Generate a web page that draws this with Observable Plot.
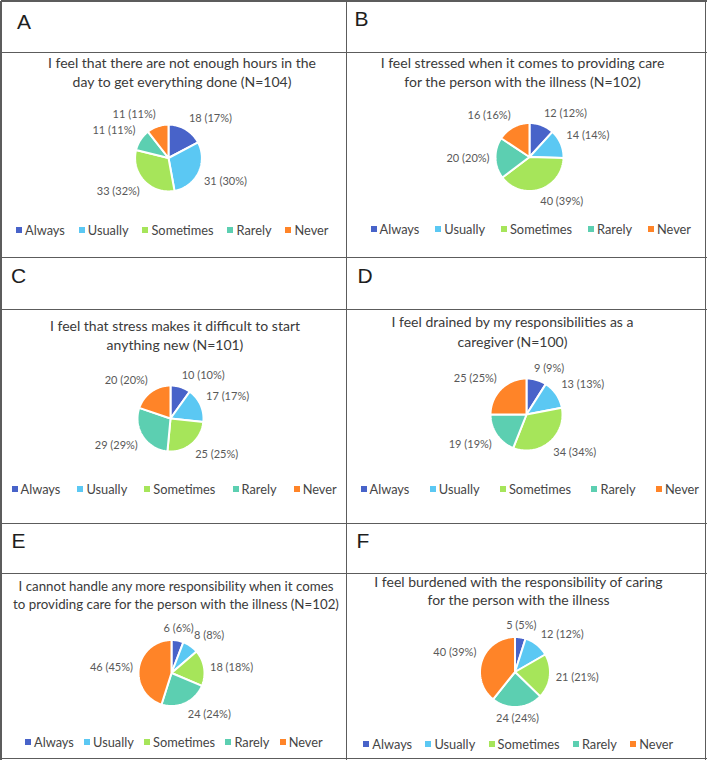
<!DOCTYPE html>
<html><head><meta charset="utf-8">
<script src="https://cdn.jsdelivr.net/npm/d3@7"></script>
<script src="https://cdn.jsdelivr.net/npm/@observablehq/plot@0.6"></script>
<style>
body{margin:0;background:#fff;}
#fig{position:relative;width:708px;height:762px;overflow:hidden;font-family:Lato,"Noto Sans",sans-serif;background:#fff;}
.hl{position:absolute;height:1.5px;background:#5c5c5c;}
.vl{position:absolute;width:1.5px;background:#5c5c5c;}
.letter{position:absolute;font-family:"Liberation Sans",Arial,sans-serif;font-size:21px;line-height:21px;color:#1e1e1e;}
.title{position:absolute;width:440px;text-align:center;color:#3a3a3a;white-space:nowrap;}
.legend{position:absolute;display:flex;justify-content:space-between;align-items:center;height:20px;font-size:12.8px;color:#454545;white-space:nowrap;}
.legend .item{display:flex;align-items:center;}
.legend .sw{display:inline-block;width:6px;height:6px;margin-right:3px;}
.psvg{position:absolute;}
</style></head><body><div id="fig"></div><script>
// ---------- data ----------
const categories = ["Always", "Usually", "Sometimes", "Rarely", "Never"];
const panelLetters = ["A", "B", "C", "D", "E", "F"];
const titleA = ["I feel that there are not enough hours in the", "day to get everything done (N=104)"];
const titleB = ["I feel stressed when it comes to providing care", "for the person with the illness (N=102)"];
const titleC = ["I feel that stress makes it difficult to start", "anything new (N=101)"];
const titleD = ["I feel drained by my responsibilities as a", "caregiver (N=100)"];
const titleE = ["I cannot handle any more responsibility when it comes", "to providing care for the person with the illness (N=102)"];
const titleF = ["I feel burdened with the responsibility of caring", "for the person with the illness"];
const countsA = [18, 31, 33, 11, 11];
const pctA = [17, 30, 32, 11, 11];
const countsB = [12, 14, 40, 20, 16];
const pctB = [12, 14, 39, 20, 16];
const countsC = [10, 17, 25, 29, 20];
const pctC = [10, 17, 25, 29, 20];
const countsD = [9, 13, 34, 19, 25];
const pctD = [9, 13, 34, 19, 25];
const countsE = [6, 8, 18, 24, 46];
const pctE = [6, 8, 18, 24, 45];
const countsF = [5, 12, 21, 24, 40];
const pctF = [5, 12, 21, 24, 39];

// ---------- style / layout ----------
const colorRange = ["#4863c9", "#5bc8f3", "#a6e55a", "#5ccfb1", "#ff8428"];
const hLines = [[1, 707, 1], [1, 707, 52.5], [1, 707, 257.5], [1, 707, 309.5], [1, 707, 523.5], [1, 707, 573.5], [1, 707, 758.5]];
const vLines = [[1, 1, 759.5], [346.5, 1, 759.5], [705.5, 1, 759.5]];
// cell: x0, y0, w, h (chart area below the letter row)
const cells = [[2, 54, 345, 204], [348, 54, 358, 204], [2, 311, 345, 213], [348, 311, 358, 213], [2, 575, 345, 184], [348, 575, 358, 184]];
// letter: left, baseline
const letterPos = [[17, 29], [354.5, 26], [11, 283], [357.5, 283], [11.5, 548], [356.5, 548]];
// title: centre x, first baseline, second baseline, font size
const titlePos = [[182, 68, 87, 14], [522.5, 69, 87.5, 14], [175, 331, 350, 14], [512.5, 327.5, 347, 14], [176, 591.5, 609.5, 13.3], [518.5, 587.5, 606, 14]];
// pie: cx, cy, r
const piePos = [[168, 157.5, 33.4], [529, 156.5, 34], [170, 418, 33], [526, 414, 36], [171, 672.5, 33], [514.5, 671.5, 35]];
// legend: left, right, centre y
const legendPos = [[16, 328.5, 229.5], [370.5, 691, 229.3], [11.5, 336.7, 489.3], [360.5, 699, 489.3], [25, 322.7, 741.7], [363.3, 673.3, 744]];

const titles = [titleA, titleB, titleC, titleD, titleE, titleF];
const counts = [countsA, countsB, countsC, countsD, countsE, countsF];
const pcts = [pctA, pctB, pctC, pctD, pctE, pctF];

const fig = document.getElementById("fig");
for (const [x0, x1, y] of hLines) {
  const d = document.createElement("div"); d.className = "hl";
  d.style.left = x0 + "px"; d.style.width = (x1 - x0) + "px"; d.style.top = (y - 0.75) + "px"; fig.appendChild(d);
}
for (const [x, y0, y1] of vLines) {
  const d = document.createElement("div"); d.className = "vl";
  d.style.left = (x - 0.75) + "px"; d.style.top = y0 + "px"; d.style.height = (y1 - y0) + "px"; fig.appendChild(d);
}

const labelFont = 11;
const cv = document.createElement("canvas").getContext("2d");
cv.font = `${labelFont}px Lato`;
const ramp = s => Math.sign(s) * Math.max(0, Math.min(1, (Math.abs(s) - 0.2) / 0.11));

let colorScale = null;
panelLetters.forEach((letter, i) => {
  // letter
  const L = document.createElement("div"); L.className = "letter"; L.textContent = letter;
  L.style.left = letterPos[i][0] + "px"; L.style.top = (letterPos[i][1] - 17.8) + "px"; fig.appendChild(L);
  // title
  const [tcx, b1, b2, fs] = titlePos[i];
  const lh = b2 - b1;
  const T = document.createElement("div"); T.className = "title";
  T.style.fontSize = fs + "px";
  T.style.left = (tcx - 220) + "px"; T.style.lineHeight = lh + "px";
  T.style.top = (b1 - ((lh - 1.2 * fs) / 2 + 0.987 * fs)) + "px";
  T.innerHTML = titles[i].join("<br>"); fig.appendChild(T);

  // pie geometry from data
  const [x0, y0, w, h] = cells[i];
  const [cx, cy, r] = piePos[i];
  const arcs = d3.pie().sort(null)(counts[i]);
  const pts = [];
  const labels = [];
  arcs.forEach((a, k) => {
    const cat = categories[k];
    pts.push({x: 0, y: 0, cat});
    const n = Math.max(2, Math.ceil((a.endAngle - a.startAngle) / (Math.PI / 120)));
    for (let j = 0; j <= n; j++) {
      const t = a.startAngle + (a.endAngle - a.startAngle) * j / n;
      pts.push({x: Math.sin(t), y: -Math.cos(t), cat});
    }
    const mid = (a.startAngle + a.endAngle) / 2;
    const ux = Math.sin(mid), uy = -Math.cos(mid);
    const text = `${counts[i][k]} (${pcts[i][k]}%)`;
    const hw = cv.measureText(text).width / 2, hh = 6, g = 6;
    const px = (r + g) * ux + hw * ramp(ux);
    const py = (r + g) * uy + hh * ramp(uy);
    labels.push({x: px / r, y: py / r, text});
  });

  const plot = Plot.plot({
    width: w, height: h,
    marginLeft: 0, marginRight: 0, marginTop: 0, marginBottom: 0,
    x: {domain: [-1, 1], range: [cx - r - x0, cx + r - x0], axis: null},
    y: {domain: [-1, 1], range: [cy - r - y0, cy + r - y0], axis: null},
    color: {domain: categories, range: colorRange},
    style: {background: "transparent", overflow: "visible"},
    marks: [
      Plot.line(pts, {x: "x", y: "y", z: "cat", fill: "cat", stroke: "white", strokeWidth: 2, strokeLinejoin: "miter", curve: "linear-closed"}),
      Plot.text(labels, {x: "x", y: "y", text: "text", fill: "#595959", fontSize: labelFont, fontFamily: "Lato", textAnchor: "middle", lineAnchor: "middle"})
    ]
  });
  plot.classList.add("psvg");
  plot.style.left = x0 + "px"; plot.style.top = y0 + "px";
  fig.appendChild(plot);
  if (!colorScale) colorScale = plot.scale("color");

  // legend
  const [ll, lr, lcy] = legendPos[i];
  const G = document.createElement("div"); G.className = "legend";
  G.style.left = ll + "px"; G.style.width = (lr - ll) + "px"; G.style.top = (lcy - 10) + "px";
  colorScale.domain.forEach((c, k) => {
    const it = document.createElement("span"); it.className = "item";
    const sw = document.createElement("span"); sw.className = "sw"; sw.style.background = colorScale.range[k];
    it.appendChild(sw); it.appendChild(document.createTextNode(c));
    G.appendChild(it);
  });
  fig.appendChild(G);
});
</script></body></html>
